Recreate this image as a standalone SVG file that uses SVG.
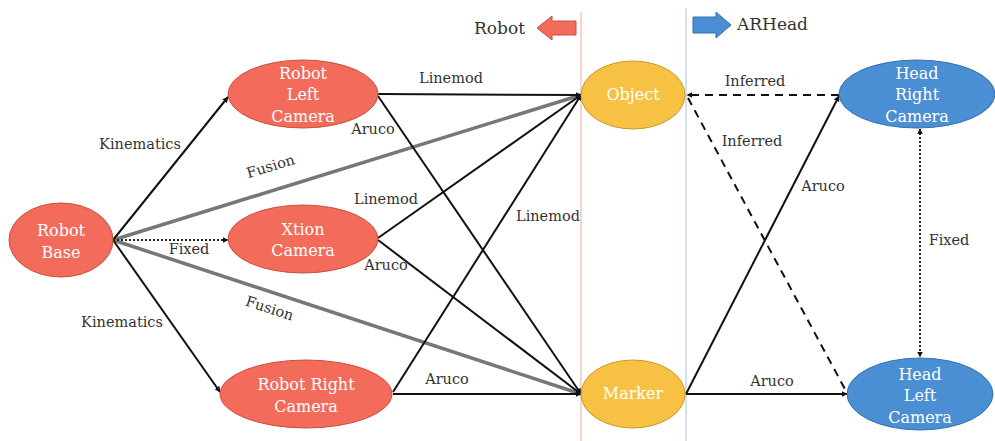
<svg xmlns="http://www.w3.org/2000/svg" width="995" height="441" viewBox="0 0 995 441">
<defs>
<marker id="ah" viewBox="0 0 10 10" refX="9" refY="5" markerWidth="6" markerHeight="6" orient="auto-start-reverse" markerUnits="userSpaceOnUse">
<path d="M0,0 L10,5 L0,10 z" fill="#111"/>
</marker>
<style>
.red{fill:#f26b5b;stroke:#c9503f;stroke-width:1}
.yel{fill:#f7c244;stroke:#c89a2a;stroke-width:1}
.blu{fill:#4a8fd4;stroke:#3470ad;stroke-width:1}
.nt{font-family:"DejaVu Serif","Liberation Serif",serif;font-size:16px;fill:#fff;text-anchor:middle}
.lb{font-family:"DejaVu Serif","Liberation Serif",serif;font-size:14.5px;fill:#333;text-anchor:middle}
.hd{font-family:"DejaVu Serif","Liberation Serif",serif;font-size:17px;fill:#333}
.e{stroke:#111;stroke-width:2;fill:none}
.g{stroke:#777;stroke-width:3.5;fill:none}
.d{stroke:#111;stroke-width:2;fill:none;stroke-dasharray:8,6}
.o{stroke:#222;stroke-width:2;fill:none;stroke-dasharray:2,2}
</style>
</defs>
<rect width="995" height="441" fill="#fff"/>
<g id="header">
<line x1="581" y1="12" x2="581" y2="441" stroke="#f0b8b0" stroke-width="1.2"/>
<line x1="686" y1="8" x2="686" y2="441" stroke="#b8cce6" stroke-width="1.2"/>
<text class="hd" x="474" y="34">Robot</text>
<path d="M576,21 L552,21 L552,16 L537,28 L552,40 L552,35 L576,35 z" fill="#f26b5b" stroke="#c9503f"/>
<path d="M693,17 L716,17 L716,12 L731,25 L716,38 L716,33 L693,33 z" fill="#4a8fd4" stroke="#3470ad"/>
<text class="hd" x="737" y="30">ARHead</text>
</g>
<g id="connectors">
<line class="g" x1="113" y1="240" x2="581" y2="95"/>
<line class="g" x1="113" y1="240" x2="581" y2="394"/>
<line class="e" x1="113" y1="240" x2="228" y2="97" marker-end="url(#ah)"/>
<line class="e" x1="113" y1="240" x2="220" y2="392" marker-end="url(#ah)"/>
<line class="o" x1="113" y1="240" x2="228" y2="240" marker-end="url(#ah)"/>
<line class="e" x1="378" y1="94" x2="581" y2="95" marker-end="url(#ah)"/>
<line class="e" x1="378" y1="96" x2="581" y2="394" marker-end="url(#ah)"/>
<line class="e" x1="378" y1="238" x2="581" y2="95" marker-end="url(#ah)"/>
<line class="e" x1="378" y1="240" x2="581" y2="394" marker-end="url(#ah)"/>
<line class="e" x1="393" y1="392" x2="581" y2="95" marker-end="url(#ah)"/>
<line class="e" x1="393" y1="394" x2="581" y2="394" marker-end="url(#ah)"/>
<line class="d" x1="839" y1="95" x2="687" y2="95" marker-end="url(#ah)"/>
<line class="d" x1="688" y1="98" x2="846" y2="391"/>
<line class="e" x1="686" y1="394" x2="839" y2="96" marker-end="url(#ah)"/>
<line class="e" x1="686" y1="394" x2="847" y2="394" marker-end="url(#ah)"/>
<line class="o" x1="920" y1="129" x2="920" y2="357" marker-start="url(#ah)" marker-end="url(#ah)"/>
<text class="lb" x="140" y="149">Kinematics</text>
<text class="lb" x="122" y="327">Kinematics</text>
<text class="lb" x="189" y="254">Fixed</text>
<text class="lb" transform="translate(272,171) rotate(-17)">Fusion</text>
<text class="lb" transform="translate(268,313) rotate(18)">Fusion</text>
<text class="lb" x="451" y="83">Linemod</text>
<text class="lb" x="373" y="134">Aruco</text>
<text class="lb" x="386" y="204">Linemod</text>
<text class="lb" x="386" y="270">Aruco</text>
<text class="lb" x="548" y="221">Linemod</text>
<text class="lb" x="447" y="384">Aruco</text>
<text class="lb" x="755" y="86">Inferred</text>
<text class="lb" x="752" y="146">Inferred</text>
<text class="lb" x="823" y="191">Aruco</text>
<text class="lb" x="772" y="386">Aruco</text>
<text class="lb" x="949" y="245">Fixed</text>
</g>
<g id="robot-base">
<ellipse class="red" cx="61" cy="240" rx="52" ry="37"/>
<text class="nt" x="61" y="236">Robot</text>
<text class="nt" x="61" y="258">Base</text>
</g>
<g id="robot-left-camera">
<ellipse class="red" cx="303" cy="94" rx="75" ry="34"/>
<text class="nt" x="303" y="79">Robot</text>
<text class="nt" x="303" y="100">Left</text>
<text class="nt" x="303" y="122">Camera</text>
</g>
<g id="xtion-camera">
<ellipse class="red" cx="303" cy="239" rx="75" ry="34"/>
<text class="nt" x="303" y="235">Xtion</text>
<text class="nt" x="303" y="256">Camera</text>
</g>
<g id="robot-right-camera">
<ellipse class="red" cx="306" cy="394" rx="86" ry="34"/>
<text class="nt" x="306" y="390">Robot Right</text>
<text class="nt" x="306" y="412">Camera</text>
</g>
<g id="object">
<ellipse class="yel" cx="633" cy="95" rx="52" ry="34"/>
<text class="nt" x="633" y="100">Object</text>
</g>
<g id="marker">
<ellipse class="yel" cx="633" cy="394" rx="52" ry="34"/>
<text class="nt" x="633" y="399">Marker</text>
</g>
<g id="head-right-camera">
<ellipse class="blu" cx="917" cy="94" rx="78" ry="34"/>
<text class="nt" x="917" y="79">Head</text>
<text class="nt" x="917" y="100">Right</text>
<text class="nt" x="917" y="122">Camera</text>
</g>
<g id="head-left-camera">
<ellipse class="blu" cx="920" cy="394" rx="73" ry="36"/>
<text class="nt" x="920" y="380">Head</text>
<text class="nt" x="920" y="401">Left</text>
<text class="nt" x="920" y="423">Camera</text>
</g>
</svg>
